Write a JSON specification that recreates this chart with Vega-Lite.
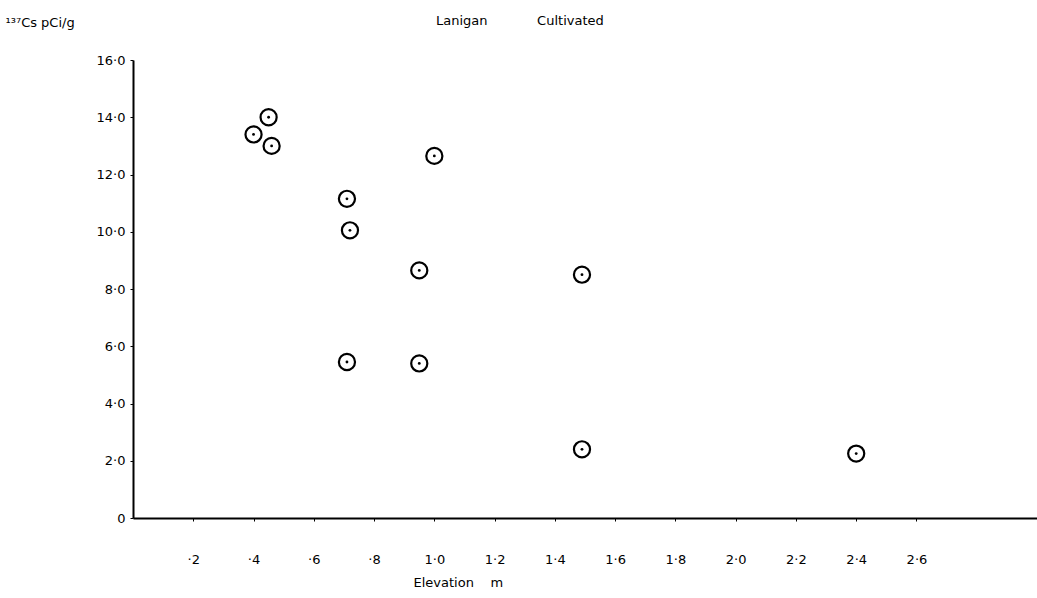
{
  "$schema": "https://vega.github.io/schema/vega-lite/v6.json",
  "width": 904,
  "height": 458,
  "autosize": {"type": "none"},
  "padding": {"left": 133, "top": 60, "right": 0, "bottom": 80},
  "background": "white",
  "config": {
    "view": {"stroke": null},
    "font": "DejaVu Sans",
    "axis": {"grid": false, "domainColor": "black", "domainWidth": 2, "tickColor": "black", "labelColor": "black", "titleColor": "black", "labelFont": "DejaVu Sans", "titleFont": "DejaVu Sans", "titleFontWeight": "normal", "labelFontSize": 13, "titleFontSize": 13}
  },
  "title": {
    "text": "Lanigan\u00a0\u00a0\u00a0\u00a0\u00a0\u00a0\u00a0\u00a0\u00a0\u00a0\u00a0\u00a0Cultivated",
    "anchor": "start",
    "frame": "group",
    "dx": 303,
    "offset": -12,
    "fontSize": 13,
    "fontWeight": "normal",
    "font": "DejaVu Sans",
    "color": "black"
  },
  "data": {
    "values": [
      {"elevation": 0.40, "cs137": 13.4},
      {"elevation": 0.45, "cs137": 14.0},
      {"elevation": 0.46, "cs137": 13.0},
      {"elevation": 0.71, "cs137": 11.15},
      {"elevation": 0.72, "cs137": 10.05},
      {"elevation": 1.00, "cs137": 12.65},
      {"elevation": 0.95, "cs137": 8.65},
      {"elevation": 0.71, "cs137": 5.45},
      {"elevation": 0.95, "cs137": 5.4},
      {"elevation": 1.49, "cs137": 8.5},
      {"elevation": 1.49, "cs137": 2.4},
      {"elevation": 2.40, "cs137": 2.25}
    ]
  },
  "encoding": {
    "x": {
      "field": "elevation",
      "type": "quantitative",
      "scale": {"domain": [0, 3.0], "nice": false, "zero": true},
      "axis": {
        "title": "Elevation\u00a0\u00a0\u00a0\u00a0m",
        "values": [0.2, 0.4, 0.6, 0.8, 1.0, 1.2, 1.4, 1.6, 1.8, 2.0, 2.2, 2.4, 2.6],
        "labelExpr": "replace(replace(format(datum.value, '.1f'), '0.', '.'), '.', '·')",
        "tickSize": 3,
        "labelPadding": 32,
        "titleAnchor": "start",
        "titleX": 280,
        "titleY": 64,
        "titleBaseline": "middle"
      }
    },
    "y": {
      "field": "cs137",
      "type": "quantitative",
      "scale": {"domain": [0, 16], "nice": false},
      "axis": {
        "title": "¹³⁷Cs pCi/g",
        "titleAngle": 0,
        "titleAlign": "left",
        "titleBaseline": "middle",
        "titleX": -128,
        "titleY": -38,
        "values": [0, 2, 4, 6, 8, 10, 12, 14, 16],
        "labelExpr": "datum.value == 0 ? '0' : replace(format(datum.value, '.1f'), '.', '·')",
        "tickSize": 3,
        "labelPadding": 5
      }
    }
  },
  "layer": [
    {"mark": {"type": "point", "shape": "circle", "filled": false, "stroke": "black", "strokeWidth": 2.2, "size": 260, "opacity": 1}},
    {"mark": {"type": "point", "shape": "circle", "filled": true, "color": "black", "size": 8, "opacity": 1}}
  ]
}
